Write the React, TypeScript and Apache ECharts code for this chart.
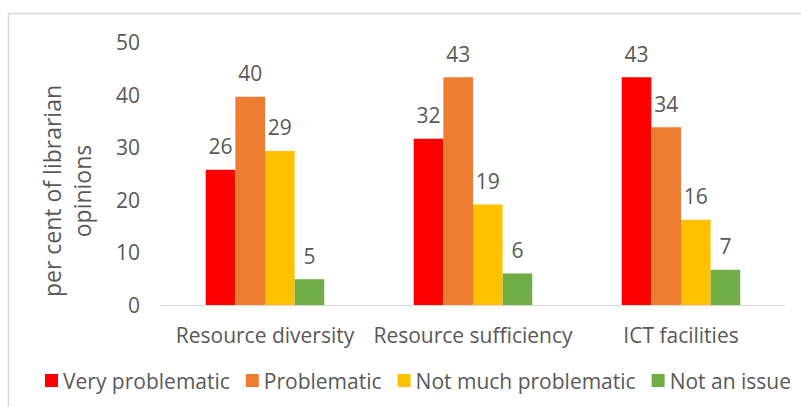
import React, { useEffect, useRef } from "react";
import * as echarts from "echarts";

const categories = ["Resource diversity", "Resource sufficiency", "ICT facilities"];
const seriesNames = ["Very problematic", "Problematic", "Not much problematic", "Not an issue"];
const veryProblematic = [25.7, 31.6, 43.3];
const problematic = [39.6, 43.3, 33.8];
const notMuchProblematic = [29.3, 19.1, 16.2];
const notAnIssue = [4.9, 6.0, 6.7];
const colors = ["#FF0000", "#ED7D31", "#FFC000", "#70AD47"];
const yTicks = { min: 0, max: 50, interval: 10 };

const FONT = "Open Sans";
const TEXT = "#595959";

export default function App() {
  const ref = useRef<HTMLDivElement>(null);
  useEffect(() => {
    document.body.style.margin = "0";
    const chart = echarts.init(ref.current!, null, { renderer: "svg" });
    const data = [veryProblematic, problematic, notMuchProblematic, notAnIssue];
    chart.setOption({
      animation: false,
      backgroundColor: "#ffffff",
      textStyle: { fontFamily: FONT, color: TEXT },
      grid: { left: 161, right: 16, top: 42, bottom: 102, containLabel: false },
      legend: {
        bottom: 16,
        left: 45,
        width: 790,
        padding: 0,
        itemWidth: 13,
        itemHeight: 13,
        itemGap: 16,
        icon: "rect",
        textStyle: { fontFamily: FONT, fontSize: 21, color: TEXT },
        data: seriesNames,
      },
      xAxis: {
        type: "category",
        data: categories,
        axisLine: { lineStyle: { color: "#d9d9d9", width: 1 } },
        axisTick: { show: false },
        axisLabel: { fontFamily: FONT, fontSize: 21, color: TEXT, margin: 19, interval: 0 },
      },
      yAxis: {
        type: "value",
        min: yTicks.min,
        max: yTicks.max,
        interval: yTicks.interval,
        splitLine: { show: false },
        axisLine: { show: false },
        axisTick: { show: false },
        axisLabel: { fontFamily: FONT, fontSize: 21, color: TEXT, margin: 21 },
      },
      graphic: [
        {
          type: "rect",
          shape: { x: 8.5, y: 13.5, width: 820, height: 420 },
          style: { fill: "none", stroke: "#d9d9d9", lineWidth: 1.5 },
          silent: true,
        },
        {
          type: "text",
          x: 52,
          y: 191,
          rotation: Math.PI / 2,
          style: {
            text: "per cent of librarian",
            fontFamily: FONT,
            fontSize: 23,
            fill: TEXT,
            align: "center",
            verticalAlign: "middle",
          },
        },
        {
          type: "text",
          x: 82,
          y: 191,
          rotation: Math.PI / 2,
          style: {
            text: "opinions",
            fontFamily: FONT,
            fontSize: 23,
            fill: TEXT,
            align: "center",
            verticalAlign: "middle",
          },
        },
      ],
      series: seriesNames.map((name, i) => ({
        name,
        type: "bar",
        data: data[i],
        barGap: "0%",
        barCategoryGap: "43%",
        itemStyle: { color: colors[i] },
        label: {
          show: true,
          position: "top",
          distance: 13,
          fontFamily: FONT,
          fontSize: 21,
          color: TEXT,
          formatter: (p: any) => String(Math.round(p.value)),
        },
      })),
    });
    return () => chart.dispose();
  }, []);
  return <div ref={ref} style={{ width: 801, height: 407 }} />;
}
